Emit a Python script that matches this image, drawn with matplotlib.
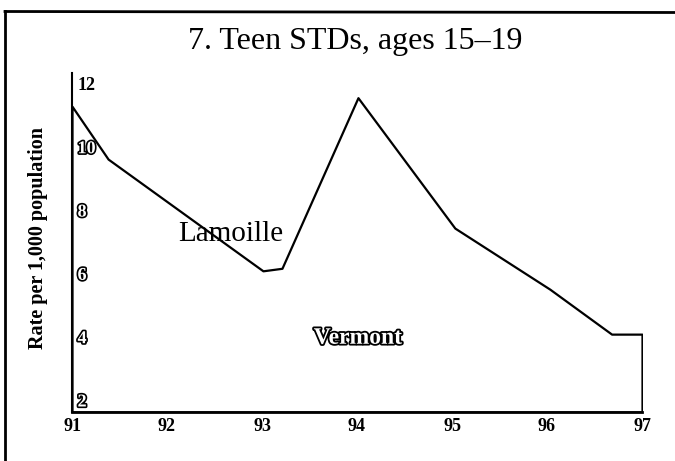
import matplotlib
matplotlib.use("Agg")
import matplotlib.pyplot as plt
import matplotlib.patheffects as pe
from matplotlib.lines import Line2D

# Data
years = [91.0, 91.38, 93.01, 93.21, 94.01, 95.03, 96.03, 96.68, 97.0]
lamoille = [11.28, 9.61, 6.08, 6.16, 11.55, 7.43, 5.50, 4.08, 4.08]
x_ticks = [91, 92, 93, 94, 95, 96, 97]
x_labels = ["91", "92", "93", "94", "95", "96", "97"]
y_ticks = [2, 4, 6, 8, 10, 12]
y_labels = ["2", "4", "6", "8", "10", "12"]
title = "7. Teen STDs, ages 15\u201319"
ylabel = "Rate per 1,000 population"

serif = ["Liberation Serif", "DejaVu Serif"]
plt.rcParams["font.family"] = serif

fig = plt.figure(figsize=(6.75, 4.61), dpi=100)
ax = fig.add_axes([72 / 675, (461 - 412) / 461, (642 - 72) / 675, (412 - 73.3) / 461])
ax.set_axisbelow(False)

ymin, ymax = 1.62, 12.32
ax.set_xlim(91, 97)
ax.set_ylim(ymin, ymax)

ax.fill_between(years, lamoille, ymin, facecolor="white", edgecolor="black",
                linewidth=1.6, zorder=1)

for s in ["top", "right"]:
    ax.spines[s].set_visible(False)
ax.spines["left"].set_linewidth(1.5)
ax.spines["bottom"].set_linewidth(2.0)
ax.spines["left"].set_zorder(3)
ax.spines["bottom"].set_zorder(3)

ax.set_xticks(x_ticks)
ax.set_xticklabels(x_labels, fontsize=13, fontweight="bold")
ax.tick_params(axis="x", length=0, pad=4)

ax.set_yticks(y_ticks)
ax.set_yticklabels(y_labels, fontsize=13, fontweight="bold")
ax.tick_params(axis="y", length=0, pad=-4)
for lab in ax.get_yticklabels():
    lab.set_horizontalalignment("left")
    if lab.get_text() != "12":
        lab.set_color("white")
        lab.set_path_effects([pe.Stroke(linewidth=2.4, foreground="black"), pe.Normal()])

ax.text(93.22, 7.25, "Lamoille", fontsize=21, ha="right", va="center", zorder=5)
ax.text(94.01, 3.95, "Vermont", fontsize=17, fontweight="bold", ha="center",
        va="center", color="white", zorder=5,
        path_effects=[pe.Stroke(linewidth=2.6, foreground="black"), pe.Normal()])

fig.text(355 / 675, 1 - 41 / 461, title, fontsize=23, ha="center", va="center")
fig.text(38 / 675, 1 - 238 / 461, ylabel, fontsize=14.5, fontweight="bold",
         rotation=90, ha="center", va="center")

# page frame
fig.add_artist(Line2D([5.5 / 675, 5.5 / 675], [0, 1 - 11 / 461], transform=fig.transFigure,
                      color="black", linewidth=2.0))
fig.add_artist(Line2D([5 / 675, 1], [1 - 11.5 / 461, 1 - 12.5 / 461], transform=fig.transFigure,
                      color="black", linewidth=2.0))

fig.savefig("out.png", dpi=100)
